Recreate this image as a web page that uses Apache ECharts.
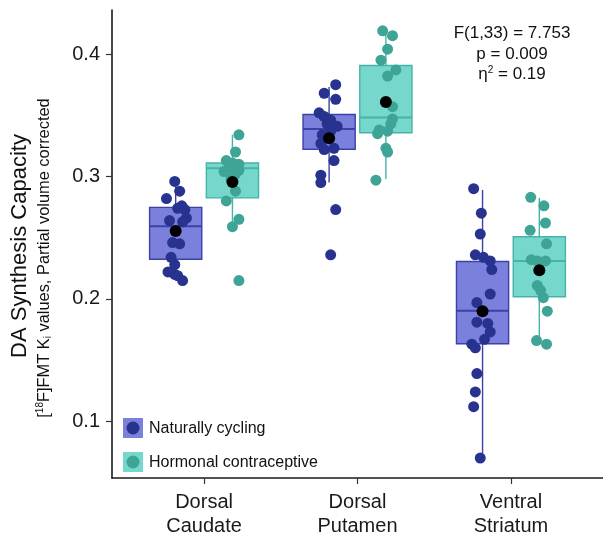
<!DOCTYPE html>
<html lang="en">
<head>
<meta charset="UTF-8">
<script src="https://cdn.jsdelivr.net/npm/echarts@6/dist/echarts.min.js"></script>
<title>DA Synthesis Capacity</title>
<style>
  *{margin:0;padding:0}
  html,body{width:100%;height:100%;background:#fff}
</style>
</head>
<body>
<div id="main" style="width:603px;height:538px"></div>
<script type="text/javascript">
// regions on the x axis
var categories = ['Dorsal\nCaudate', 'Dorsal\nPutamen', 'Ventral\nStriatum'];
var groups = ['Naturally cycling', 'Hormonal contraceptive'];
var yTicks = [0.1, 0.2, 0.3, 0.4];

// box stats per region: [whisker low, Q1, median, Q3, whisker high]
var ncBox = [[0.215, 0.2324, 0.2594, 0.2748, 0.296], [0.295, 0.3222, 0.3387, 0.3506, 0.373], [0.070, 0.1634, 0.1904, 0.2305, 0.289]];
var hcBox = [[0.258, 0.2825, 0.3068, 0.311, 0.334], [0.298, 0.3357, 0.3482, 0.3907, 0.419], [0.1675, 0.2018, 0.231, 0.2508, 0.2825]];
var ncMean = [0.2554, 0.3312, 0.190];
var hcMean = [0.2955, 0.3609, 0.2235];

// individual subjects (values) and their jitter
var ncCaudate = [0.296, 0.288, 0.282, 0.276, 0.274, 0.273, 0.266, 0.264, 0.263, 0.246, 0.245, 0.234, 0.228, 0.222, 0.220, 0.219, 0.215];
var ncCaudateJit = [-0.006, 0.026, -0.06, 0.04, 0.013, 0.06, 0.07, -0.04, 0.045, -0.02, 0.026, -0.03, -0.006, -0.05, -0.006, 0.013, 0.045];
var hcCaudate = [0.334, 0.320, 0.313, 0.311, 0.310, 0.308, 0.307, 0.305, 0.304, 0.302, 0.298, 0.288, 0.280, 0.265, 0.259, 0.215];
var hcCaudateJit = [0.042, 0.02, -0.04, 0, 0.042, 0.016, -0.016, 0.042, -0.055, 0.02, -0.01, 0.02, -0.04, 0.042, 0, 0.042];
var ncPutamen = [0.375, 0.368, 0.363, 0.352, 0.349, 0.346, 0.343, 0.341, 0.337, 0.334, 0.327, 0.323, 0.322, 0.313, 0.301, 0.295, 0.273, 0.236];
var ncPutamenJit = [0.043, -0.032, 0.043, -0.065, -0.032, 0.01, -0.013, 0.052, 0.01, -0.045, -0.054, 0.032, -0.032, 0.032, -0.054, -0.054, 0.043, 0.01];
var hcPutamen = [0.419, 0.415, 0.404, 0.395, 0.387, 0.382, 0.357, 0.347, 0.343, 0.338, 0.337, 0.335, 0.323, 0.320, 0.297];
var hcPutamenJit = [-0.021, 0.043, 0.011, -0.032, 0.065, 0.011, 0.043, 0.043, 0.032, -0.043, 0.011, -0.054, 0, 0.011, -0.065];
var ncVentral = [0.290, 0.270, 0.253, 0.236, 0.234, 0.231, 0.224, 0.204, 0.197, 0.181, 0.180, 0.173, 0.167, 0.163, 0.160, 0.139, 0.124, 0.112, 0.070];
var ncVentralJit = [-0.058, -0.008, -0.015, -0.047, 0.006, 0.05, 0.06, 0.05, -0.037, -0.037, 0.034, 0.05, 0.013, -0.07, -0.047, -0.037, -0.047, -0.058, -0.015];
var hcVentral = [0.283, 0.276, 0.262, 0.256, 0.245, 0.232, 0.231, 0.231, 0.211, 0.207, 0.201, 0.190, 0.166, 0.163];
var hcVentralJit = [-0.056, 0.03, 0.04, -0.06, 0.047, -0.052, -0.013, 0.04, -0.013, 0.008, 0.026, 0.052, -0.018, 0.047];

var statLines = ['F(1,33) = 7.753', 'p = 0.009', '{n|η}{sup|2}{n| = 0.19}'];

var DODGE = 0.185, BOX_W = 0.34;
var ncCol = {fill: '#7b80dc', line: '#3a42a8', pt: '#27338f'};
var hcCol = {fill: '#76d8cc', line: '#45b3a6', pt: '#3ea596'};
var FONT = '"Liberation Sans", Arial, sans-serif';

function boxData(stats, shift) {
  var out = [];
  for (var i = 0; i < stats.length; i++) {
    out.push([i + 1 + shift].concat(stats[i]));
  }
  return out;
}
function pts(vals, jit, cat, shift) {
  var out = [];
  for (var i = 0; i < vals.length; i++) out.push([cat + shift + jit[i], vals[i]]);
  return out;
}
function meanData(m, shift) {
  return m.map(function (v, i) { return [i + 1 + shift, v]; });
}

function boxRenderer(col) {
  return function (params, api) {
    var xc = api.value(0);
    var lo = api.coord([xc, api.value(1)]);
    var q1 = api.coord([xc, api.value(2)]);
    var md = api.coord([xc, api.value(3)]);
    var q3 = api.coord([xc, api.value(4)]);
    var hi = api.coord([xc, api.value(5)]);
    var hw = api.size([BOX_W, 0])[0] / 2;
    var ls = {stroke: col.line, lineWidth: 1.4};
    return {
      type: 'group',
      children: [
        {type: 'line', shape: {x1: hi[0], y1: hi[1], x2: q3[0], y2: q3[1]}, style: ls},
        {type: 'line', shape: {x1: q1[0], y1: q1[1], x2: lo[0], y2: lo[1]}, style: ls},
        {type: 'rect', shape: {x: q3[0] - hw, y: q3[1], width: hw * 2, height: q1[1] - q3[1]},
          style: {fill: col.fill, stroke: col.line, lineWidth: 1.4}},
        {type: 'line', shape: {x1: md[0] - hw, y1: md[1], x2: md[0] + hw, y2: md[1]},
          style: {stroke: col.line, lineWidth: 2}}
      ]
    };
  };
}

var ncPts = pts(ncCaudate, ncCaudateJit, 1, -DODGE)
  .concat(pts(ncPutamen, ncPutamenJit, 2, -DODGE))
  .concat(pts(ncVentral, ncVentralJit, 3, -DODGE));
var hcPts = pts(hcCaudate, hcCaudateJit, 1, DODGE)
  .concat(pts(hcPutamen, hcPutamenJit, 2, DODGE))
  .concat(pts(hcVentral, hcVentralJit, 3, DODGE));

var chart = echarts.init(document.getElementById('main'));

var option = {
  animation: false,
  textStyle: {fontFamily: FONT},
  grid: {left: 112, right: 0, top: 10, bottom: 58},
  xAxis: {
    type: 'value', min: 0.4, max: 3.6,
    splitLine: {show: false},
    axisLine: {lineStyle: {color: '#1a1a1a', width: 1.6}},
    axisTick: {customValues: [1, 2, 3], length: 6, lineStyle: {color: '#333', width: 1.2}},
    axisLabel: {
      customValues: [1, 2, 3], margin: 12, fontSize: 20, lineHeight: 24,
      color: '#1a1a1a', fontFamily: FONT,
      formatter: function (v) { return categories[Math.round(v) - 1]; }
    }
  },
  yAxis: {
    type: 'value', min: 0.0537, max: 0.436,
    splitLine: {show: false},
    axisLine: {show: true, lineStyle: {color: '#1a1a1a', width: 1.6}},
    axisTick: {show: true, customValues: yTicks, length: 6, lineStyle: {color: '#333', width: 1.2}},
    axisLabel: {
      customValues: yTicks, margin: 12, fontSize: 20, color: '#1a1a1a', fontFamily: FONT,
      formatter: function (v) { return v.toFixed(1); }
    }
  },
  series: [
    {type: 'custom', name: groups[0], renderItem: boxRenderer(ncCol), data: boxData(ncBox, -DODGE), z: 1},
    {type: 'custom', name: groups[1], renderItem: boxRenderer(hcCol), data: boxData(hcBox, DODGE), z: 1},
    {type: 'scatter', data: ncPts, symbolSize: 11, itemStyle: {color: ncCol.pt, opacity: 1}, z: 2},
    {type: 'scatter', data: hcPts, symbolSize: 11, itemStyle: {color: hcCol.pt, opacity: 1}, z: 2},
    {type: 'scatter', data: meanData(ncMean, -DODGE).concat(meanData(hcMean, DODGE)),
      symbolSize: 12, itemStyle: {color: '#000', opacity: 1}, z: 3}
  ],
  graphic: [
    {type: 'text', x: 20, y: 246, rotation: Math.PI / 2,
      style: {text: 'DA Synthesis Capacity', font: '22px ' + FONT, fill: '#111', align: 'center', verticalAlign: 'middle'}},
    {type: 'text', x: 44, y: 258, rotation: Math.PI / 2,
      style: {
        text: '[{sup|18}F]FMT K{sub|i} values, Partial volume corrected',
        font: '16.4px ' + FONT, fill: '#111', align: 'center', verticalAlign: 'middle',
        rich: {
          sup: {fontSize: 10, verticalAlign: 'top', padding: [0, 0, 8, 0], fontFamily: FONT},
          sub: {fontSize: 10, verticalAlign: 'bottom', padding: [8, 0, 0, 0], fontFamily: FONT}
        }
      }},
    {type: 'text', x: 512, y: 33,
      style: {text: statLines[0], font: '17px ' + FONT, fill: '#111', align: 'center', verticalAlign: 'middle'}},
    {type: 'text', x: 512, y: 54,
      style: {text: statLines[1], font: '17px ' + FONT, fill: '#111', align: 'center', verticalAlign: 'middle'}},
    {type: 'text', x: 512, y: 74,
      style: {
        text: statLines[2], font: '17px ' + FONT, fill: '#111', align: 'center', verticalAlign: 'middle',
        rich: {
          n: {fontSize: 17, fontFamily: FONT},
          sup: {fontSize: 10, verticalAlign: 'top', padding: [0, 0, 8, 0], fontFamily: FONT}
        }
      }},
    // legend keys
    {type: 'rect', shape: {x: 123, y: 418, width: 20, height: 20}, style: {fill: ncCol.fill}},
    {type: 'circle', shape: {cx: 133, cy: 428, r: 6.5}, style: {fill: ncCol.pt}},
    {type: 'text', x: 149, y: 429, style: {text: groups[0], font: '16px ' + FONT, fill: '#111', verticalAlign: 'middle'}},
    {type: 'rect', shape: {x: 123, y: 452, width: 20, height: 20}, style: {fill: hcCol.fill}},
    {type: 'circle', shape: {cx: 133, cy: 462, r: 6.5}, style: {fill: hcCol.pt}},
    {type: 'text', x: 149, y: 463, style: {text: groups[1], font: '16px ' + FONT, fill: '#111', verticalAlign: 'middle'}}
  ]
};

chart.setOption(option);
</script>
</body>
</html>
